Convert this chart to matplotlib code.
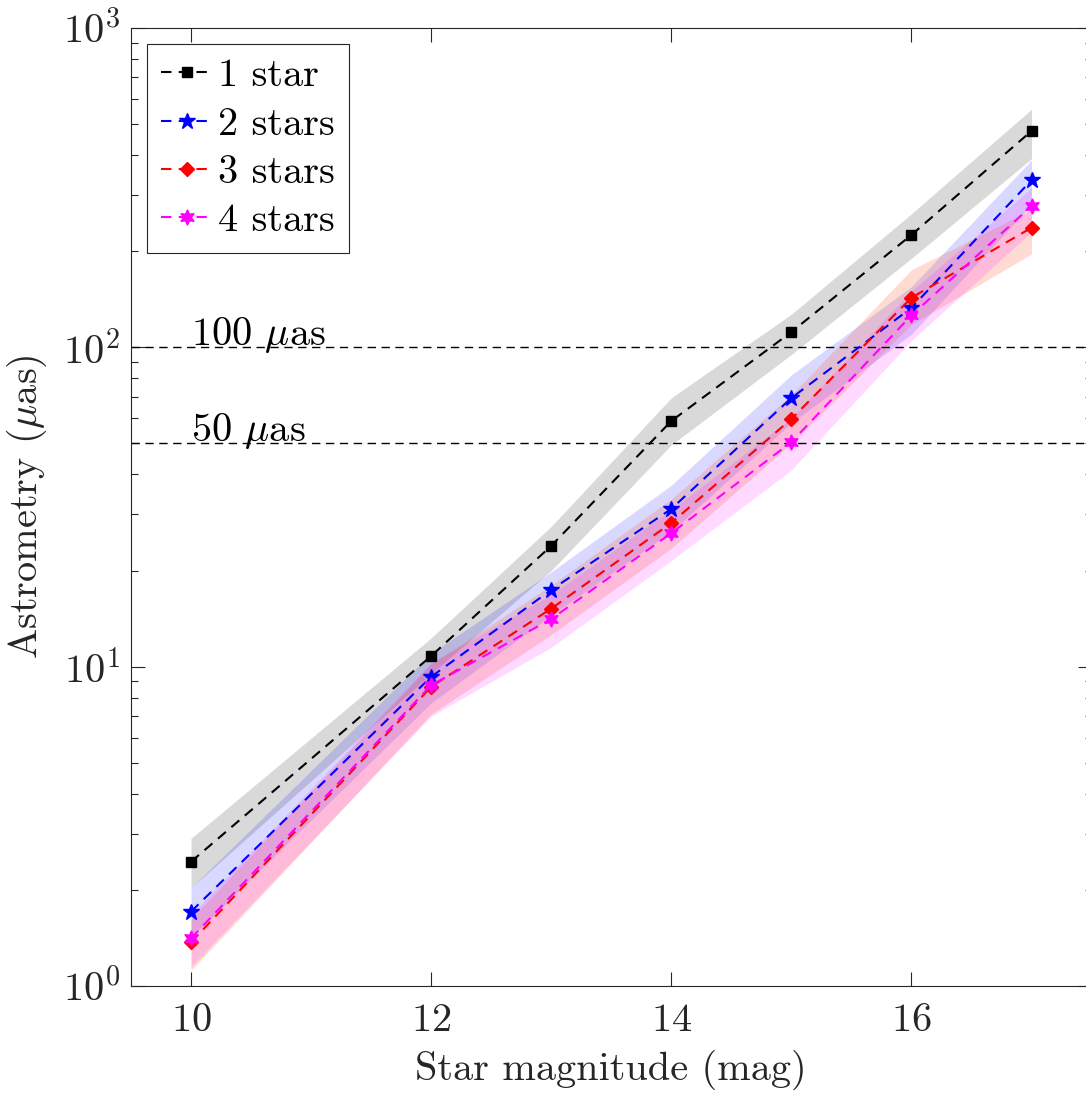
import numpy as np
import matplotlib
matplotlib.use('Agg')
import matplotlib.pyplot as plt
from matplotlib.ticker import LogLocator, FixedLocator

plt.rcParams['font.family'] = 'cmr10'
plt.rcParams['mathtext.fontset'] = 'cm'
plt.rcParams['axes.formatter.use_mathtext'] = True

# star magnitudes
mag = [10, 12, 13, 14, 15, 16, 17]

# astrometry (uas) per number of stars
one_star = [2.45, 10.8, 23.9, 58.8, 111.7, 225, 476]
two_stars = [1.71, 9.3, 17.4, 31.2, 69.4, 133, 334]
three_stars = [1.37, 8.65, 15.2, 28.2, 59.7, 143, 237]
four_stars = [1.41, 8.75, 14.1, 26.2, 50.5, 126, 277]

# shaded spread (lower / upper)
one_lo = [2.03, 9.5, 20.0, 49.5, 95, 190, 390]
one_hi = [2.9, 12.3, 27.5, 69.5, 127, 262, 557]
two_lo = [1.42, 7.7, 14.5, 26.5, 58, 110, 280]
two_hi = [2.03, 11.0, 19.8, 37, 82, 155, 386]
three_lo = [1.12, 7.1, 12.6, 23.5, 50, 118, 196]
three_hi = [1.62, 10.2, 18.0, 33.5, 71, 175, 270]
four_lo = [1.15, 7.0, 11.5, 21.5, 41.3, 105, 230]
four_hi = [1.67, 10.3, 16.8, 31, 60, 150, 316]

labels = ['1 star', '2 stars', '3 stars', '4 stars']
ref_levels = [100, 50]

fs = 29
fig = plt.figure(figsize=(10.86, 11.01), dpi=100)
ax = fig.add_axes([131/1086, 1-986/1101, (1091.6-131)/1086, (986-28)/1101])

series = [
    (one_star, one_lo, one_hi, '#000000', 's', 7.5),
    (two_stars, two_lo, two_hi, '#0000ff', '*', 12),
    (three_stars, three_lo, three_hi, '#ff0000', 'D', 7.5),
    (four_stars, four_lo, four_hi, '#ff00ff', (6, 1, 0), 11),
]
fill_cols = [(0, 0, 0, 0.15), (0, 0, 1, 0.15), (1, 0.3, 0.15, 0.2), (1, 0, 1, 0.15)]

for (v, lo, hi, c, m, ms), fc in zip(series, fill_cols):
    ax.fill_between(mag, lo, hi, color=fc, linewidth=0)

for lvl in ref_levels:
    ax.axhline(lvl, color='k', linestyle=(0, (6, 4)), linewidth=1.0)

for (v, lo, hi, c, m, ms), lab in zip(series, labels):
    ax.plot(mag, v, linestyle=(0, (5, 3.5)), color=c, marker=m, markersize=ms,
            linewidth=1.5, label=lab)

ax.text(10, 101.5, r'100 $\mu$as', fontsize=fs, va='baseline', ha='left')
ax.text(10, 50.8, r'50 $\mu$as', fontsize=fs, va='baseline', ha='left')

ax.set_yscale('log')
ax.set_xlim(9.5, 17.5)
ax.set_ylim(1, 1000)
ax.xaxis.set_major_locator(FixedLocator([10, 12, 14, 16]))
ax.yaxis.set_major_locator(LogLocator(base=10, numticks=10))
ax.yaxis.set_minor_locator(LogLocator(base=10, subs=np.arange(2, 10), numticks=10))
ax.tick_params(which='both', direction='in', top=True, right=True, labelsize=fs,
               color='#262626', labelcolor='#262626', width=0.8)
ax.tick_params(which='major', length=10)
ax.tick_params(axis='x', which='major', pad=12)
ax.tick_params(axis='y', which='major', pad=8)
ax.tick_params(which='minor', length=5)
for sp in ax.spines.values():
    sp.set_color('#262626')
    sp.set_linewidth(0.8)

ax.set_xlabel('Star magnitude (mag)', fontsize=fs, color='#262626', labelpad=8)
ax.set_ylabel(r'Astrometry ($\mu$as)', fontsize=fs, color='#262626', labelpad=10)

leg = ax.legend(loc='upper left', fontsize=fs, fancybox=False, framealpha=1,
                edgecolor='#262626', handlelength=1.3, handletextpad=0.1,
                borderpad=0.35, labelspacing=0.3, borderaxespad=0.4)
leg.get_frame().set_linewidth(0.8)

fig.savefig('out.png', dpi=100)
